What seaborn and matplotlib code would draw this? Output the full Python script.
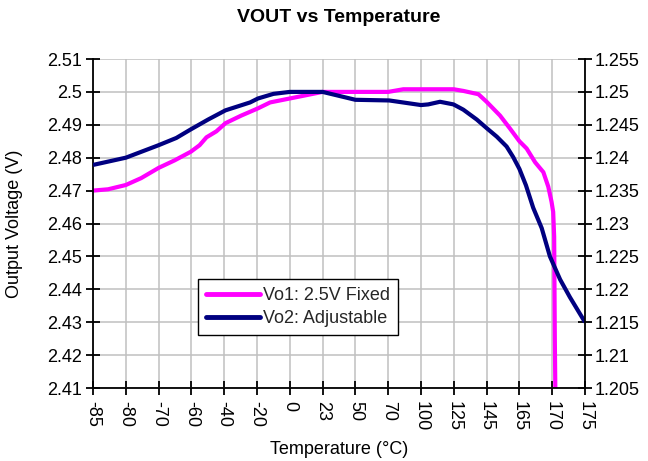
import numpy as np
import matplotlib
matplotlib.use("Agg")
import matplotlib.pyplot as plt
import seaborn as sns
from matplotlib.lines import Line2D
from matplotlib.ticker import FuncFormatter

# ---- data ----
temps = ["-85", "-80", "-70", "-60", "-40", "-20", "0", "23", "50",
         "70", "100", "125", "145", "165", "170", "175"]

# Vo1 (left axis, V) ; positions in category-index units
vo1_pos = [0, 0.46, 1.0, 1.47, 2.0, 2.49, 2.98, 3.25, 3.46, 3.76, 4.04, 4.52,
           5.03, 5.4, 6.0, 7.0, 8.0, 9.0, 9.46, 10.0, 11.0, 11.29, 11.75,
           12.0, 12.41, 12.71, 13.0, 13.22, 13.48, 13.73, 13.88, 13.98,
           14.03, 14.06, 14.08, 14.1]
vo1_val = [2.4700, 2.4704, 2.4717, 2.4738, 2.4769, 2.4792, 2.4818, 2.4838,
           2.4862, 2.4880, 2.4905, 2.4928, 2.4950, 2.4968, 2.4980, 2.5000,
           2.5000, 2.5000, 2.5008, 2.5008, 2.5008, 2.5003, 2.4993, 2.4970,
           2.4928, 2.4889, 2.4850, 2.4828, 2.4786, 2.4756, 2.4712, 2.4666,
           2.4635, 2.4560, 2.4250, 2.4050]

# Vo2 (right axis, V)
vo2_pos = [0, 1.0, 2.0, 2.54, 2.98, 3.51, 4.04, 4.79, 5.03, 5.5, 6.0, 7.0,
           8.0, 9.03, 10.0, 10.22, 10.58, 10.99, 11.29, 11.7, 12.0, 12.31,
           12.61, 12.81, 13.0, 13.2, 13.42, 13.68, 13.93, 14.24, 14.54, 15.0]
vo2_val = [1.2389, 1.2400, 1.2419, 1.2430, 1.2443, 1.2458, 1.2472, 1.2484,
           1.2490, 1.2497, 1.2500, 1.2500, 1.2488, 1.2487, 1.2480, 1.2481,
           1.2485, 1.2481, 1.2473, 1.2458, 1.2445, 1.2432, 1.2417, 1.2401,
           1.2383, 1.2358, 1.2324, 1.2293, 1.2250, 1.2215, 1.2188, 1.2150]

labels = ["Vo1: 2.5V Fixed", "Vo2: Adjustable"]
colors = ["#FF00FF", "#000080"]

# ---- style ----
sns.set_theme(style="white")
plt.rcParams['font.family'] = ['Liberation Sans', 'DejaVu Sans']

W, H = 648, 461
fig = plt.figure(figsize=(W / 100, H / 100), dpi=100)
ax = fig.add_axes([93 / W, 1 - 388 / H, 492 / W, 329 / H])
ax2 = ax.twinx()

lw = 3.0
sns.lineplot(x=vo1_pos, y=vo1_val, ax=ax, color=colors[0], linewidth=lw,
             sort=False, estimator=None, legend=False,
             solid_joinstyle='round', solid_capstyle='butt')
sns.lineplot(x=vo2_pos, y=vo2_val, ax=ax2, color=colors[1], linewidth=lw,
             sort=False, estimator=None, legend=False,
             solid_joinstyle='round', solid_capstyle='butt')

fs = 13
ax.set_xlim(0, 15)
ax.set_ylim(2.41, 2.51)
ax.set_yticks(np.round(np.arange(2.41, 2.5101, 0.01), 3))
ax.yaxis.set_major_formatter(FuncFormatter(lambda v, p: f"{v:g}"))
ax.set_xticks(range(len(temps)))
ax.set_xticklabels(temps, rotation=-90, fontsize=fs, va='top', ha='center')
ax2.set_ylim(1.205, 1.255)
ax2.set_yticks(np.round(np.arange(1.205, 1.2551, 0.005), 4))
ax2.yaxis.set_major_formatter(FuncFormatter(lambda v, p: f"{v:g}"))

ax.grid(True, color='#C0C0C0', linewidth=1.1)
ax.set_axisbelow(True)

for s in ['top', 'right']:
    ax.spines[s].set_visible(False)
for s in ['top', 'left', 'bottom']:
    ax2.spines[s].set_visible(False)
for a, s in [(ax, 'left'), (ax, 'bottom'), (ax2, 'right')]:
    a.spines[s].set_color('black')
    a.spines[s].set_linewidth(1.3)

tick_len = 10
ax.tick_params(axis='both', direction='inout', length=tick_len, width=1.3,
               color='black', labelsize=fs, left=True, bottom=True,
               labelcolor='black')
ax.tick_params(axis='y', pad=3)
ax.tick_params(axis='x', pad=4)
ax2.tick_params(axis='y', direction='inout', length=tick_len, width=1.3,
                color='black', labelsize=fs, right=True, pad=2,
                labelcolor='black')

ax.set_xlabel("Temperature (°C)", fontsize=fs, color='black')
ax.xaxis.set_label_coords(0.5, -0.16)
ax.set_ylabel("Output Voltage (V)", fontsize=fs, color='black')
ax.yaxis.set_label_coords(-0.142, 0.5)
ax2.set_ylabel("")

fig.text(339 / W, 1 - 17 / H, "VOUT vs Temperature", ha='center',
         va='center', fontsize=14, fontweight='bold', color='black')

handles = [Line2D([], [], color=c, lw=lw + 0.5, solid_capstyle='round')
           for c in colors]
leg = ax2.legend(handles, labels, loc='lower left',
                 bbox_to_anchor=(0.213, 0.161), fontsize=fs,
                 frameon=True, fancybox=False, framealpha=1,
                 edgecolor='black', handlelength=3.0, handletextpad=0.15,
                 borderpad=0.45, labelspacing=0.3, borderaxespad=0)
leg.get_frame().set_linewidth(1.0)

fig.savefig("out.png", dpi=100)
